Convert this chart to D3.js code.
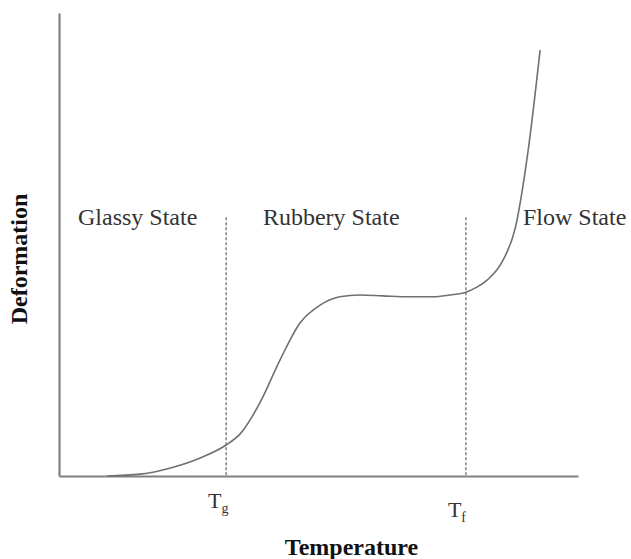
<!DOCTYPE html>
<html>
<head>
<meta charset="utf-8">
<script src="https://cdn.jsdelivr.net/npm/d3@7"></script>
<style>
  html, body { margin: 0; padding: 0; background: #fff; }
  svg { display: block; }
  text { font-family: "Liberation Serif", "Times New Roman", serif; }
</style>
</head>
<body>
<svg id="chart" width="631" height="559"></svg>
<script>
// Temperature (arbitrary units) and deformation (arbitrary units)
const temperature = [9.25, 15.6, 22.0, 27.2, 32.2, 34.9, 38.7, 42.6, 46.4, 50.3, 54.1, 58.0, 62.4, 67.6, 72.1, 75.3, 78.4, 80.5, 82.5, 85.5, 87.9, 90.4, 92.7];
const deformation = [0, 0.4, 1.9, 3.9, 6.7, 9.1, 15.8, 25.1, 33.0, 36.9, 38.7, 39.1, 38.9, 38.7, 38.7, 39.1, 39.7, 40.8, 42.3, 46.5, 53.5, 70.4, 92.0];

// Transition temperatures
const transitionNames = ["T", "T"];
const transitionSubs = ["g", "f"];
const transitionTemps = [32.2, 78.4];
const transitionTop = 55.9;

// Region labels
const stateLabels = ["Glassy State", "Rubbery State", "Flow State"];
const stateLabelX = [3.66, 39.3, 89.4];
const stateLabelY = 54.2;

const xTitle = "Temperature";
const yTitle = "Deformation";

const svg = d3.select("#chart");
const x = d3.scaleLinear().domain([0, 100]).range([59, 578]);
const y = d3.scaleLinear().domain([0, 100]).range([476, 13]);

// Axes (plain lines, no ticks)
const xAxis = d3.axisBottom(x).tickValues([]).tickSizeOuter(0);
const yAxis = d3.axisLeft(y).tickValues([]).tickSizeOuter(0);
svg.append("g").attr("transform", `translate(0,${y(0)})`).call(xAxis)
  .select(".domain").attr("stroke", "#808080").attr("stroke-width", 2.2);
svg.append("g").attr("transform", `translate(${x(0)},0)`).call(yAxis)
  .select(".domain").attr("stroke", "#808080").attr("stroke-width", 2.2);

// Dashed transition lines
svg.selectAll("line.trans").data(transitionTemps).enter().append("line")
  .attr("class", "trans")
  .attr("x1", d => x(d)).attr("x2", d => x(d))
  .attr("y1", y(transitionTop)).attr("y2", y(0))
  .attr("stroke", "#777").attr("stroke-width", 1.4)
  .attr("stroke-dasharray", "3,2");

// Curve
const pts = temperature.map((t, i) => [t, deformation[i]]);
const line = d3.line().x(d => x(d[0])).y(d => y(d[1])).curve(d3.curveMonotoneX);
svg.append("path").datum(pts).attr("d", line)
  .attr("fill", "none").attr("stroke", "#707070").attr("stroke-width", 1.6);

// State labels
svg.selectAll("text.state").data(stateLabels).enter().append("text")
  .attr("class", "state")
  .attr("x", (d, i) => x(stateLabelX[i]))
  .attr("y", y(stateLabelY))
  .attr("font-size", 24)
  .attr("fill", "#333")
  .text(d => d);

// Transition labels
const tl = svg.selectAll("text.tl").data(transitionTemps).enter().append("text")
  .attr("class", "tl")
  .attr("x", d => x(d) - 18)
  .attr("y", (d, i) => i === 0 ? 508 : 517)
  .attr("font-size", 22)
  .attr("fill", "#333");
tl.append("tspan").text((d, i) => transitionNames[i]);
tl.append("tspan").attr("dy", 5).attr("font-size", 14).text((d, i) => transitionSubs[i]);

// Axis titles
svg.append("text")
  .attr("x", (x.range()[0] + x.range()[1]) / 2 + 33)
  .attr("y", 555)
  .attr("text-anchor", "middle")
  .attr("font-size", 24)
  .attr("font-weight", "bold")
  .attr("fill", "#111")
  .text(xTitle);

svg.append("text")
  .attr("transform", "translate(27,259) rotate(-90)")
  .attr("text-anchor", "middle")
  .attr("font-size", 24)
  .attr("font-weight", "bold")
  .attr("fill", "#111")
  .text(yTitle);
</script>
</body>
</html>
